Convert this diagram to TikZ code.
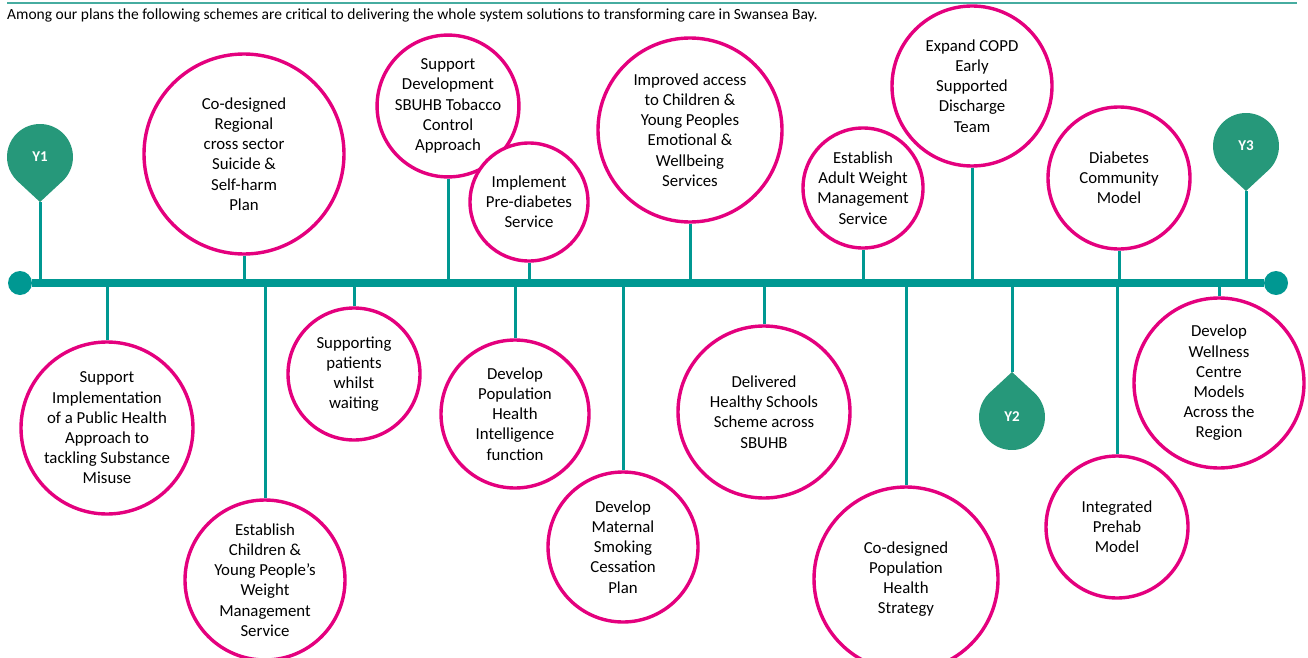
\documentclass[tikz,border=0pt]{standalone}
\usepackage{fontspec}
\setmainfont{Carlito}
\definecolor{lineteal}{RGB}{0,152,146}
\definecolor{ruleteal}{RGB}{70,172,160}
\definecolor{pingreen}{RGB}{38,152,122}
\definecolor{ringpink}{RGB}{228,0,126}
\newcommand{\yearpin}[4]{%
  \begin{scope}[shift={#2},yscale=#3]
    \fill[pingreen] (0,45) -- (22.4,24.2)
      arc[start angle=47.2,end angle=-227.2,radius=33] -- cycle;
    \coordinate (#1tip) at (0,45);
  \end{scope}
  \node[year] (#1) at #2 {#4};
}

\begin{document}
\begin{tikzpicture}[
      x=1pt,y=-1pt,
      plan/.style={circle,draw=ringpink,line width=3.4pt,fill=white,inner sep=0pt,
        align=center,font=\fontsize{16.8}{20.2}\selectfont},
      year/.style={text=white,font=\fontsize{15}{18}\selectfont\bfseries},
      stem/.style={draw=lineteal,line width=3pt},
      dot/.style={circle,fill=lineteal,minimum size=24pt,inner sep=0pt}
    ]
      \useasboundingbox (0,0) rectangle (1308,658);
      \draw[ruleteal,line width=2.5pt] (7,3) -- (1297,3);
      \node[anchor=west,inner sep=0pt,font=\fontsize{15.5}{18}\selectfont] (intro) at (7,15.5)
        {Among our plans the following schemes are critical to delivering the whole system solutions to transforming care in Swansea Bay.};
      \coordinate (tl) at (0,282.5);

      % above the line
      \node[plan,minimum size=200pt] (suicide) at (244,154)
        {Co-designed\\Regional\\cross sector\\Suicide \&\\Self-harm\\Plan};
      \node[plan,minimum size=124pt] (tobacco) at (448,106)
        {Support\\Development\\SBUHB Tobacco\\Control\\Approach};
      \node[plan,minimum size=118pt] (prediab) at (529,202)
        {Implement\\Pre-diabetes\\Service};
      \node[plan,minimum size=184pt] (emotional) at (690,130)
        {Improved access\\to Children \&\\Young Peoples\\Emotional \&\\Wellbeing\\Services};
      \node[plan,minimum size=120pt] (adultweight) at (863,188)
        {Establish\\Adult Weight\\Management\\Service};
      \node[plan,minimum size=160pt] (copd) at (972,86)
        {Expand COPD\\Early\\Supported\\Discharge\\Team};
      \node[plan,minimum size=142pt] (diabetes) at (1119,178)
        {Diabetes\\Community\\Model};

      % below the line
      \node[plan,minimum size=172pt] (substance) at (107,428)
        {Support\\Implementation\\of a Public Health\\Approach to\\tackling Substance\\Misuse};
      \node[plan,minimum size=160pt] (childweight) at (265,580)
        {Establish\\Children \&\\Young People’s\\Weight\\Management\\Service};
      \node[plan,minimum size=132pt] (waiting) at (354,374)
        {Supporting\\patients\\whilst\\waiting};
      \node[plan,minimum size=148pt] (intelligence) at (515,414)
        {Develop\\Population\\Health\\Intelligence\\function};
      \node[plan,minimum size=150pt] (maternal) at (623,547)
        {Develop\\Maternal\\Smoking\\Cessation\\Plan};
      \node[plan,minimum size=172pt] (schools) at (764,412)
        {Delivered\\Healthy Schools\\Scheme across\\SBUHB};
      \node[plan,minimum size=184pt] (strategy) at (906,579)
        {Co-designed\\Population\\Health\\Strategy};
      \node[plan,minimum size=142pt] (prehab) at (1117,527)
        {Integrated\\Prehab\\Model};
      \node[plan,minimum size=170pt] (wellness) at (1219,383)
        {Develop\\Wellness\\Centre\\Models\\Across the\\Region};

      \yearpin{y1}{(40,157)}{1}{Y1}
      \yearpin{y2}{(1012,417)}{-1}{Y2}
      \yearpin{y3}{(1246,146)}{1}{Y3}

      \foreach \n in {suicide,tobacco,prediab,emotional,adultweight,copd,diabetes}
        \draw[stem] (\n.south) -- (\n.south |- tl);
      \foreach \n in {substance,childweight,waiting,intelligence,maternal,schools,strategy,prehab,wellness}
        \draw[stem] (\n.north) -- (\n.north |- tl);
      \foreach \n in {y1,y2,y3}
        \draw[stem] (\n tip) -- (\n tip |- tl);

      \node[dot] (start) at (20,283) {};
      \node[dot] (end) at (1276,283) {};
      \draw[lineteal,line width=8pt] (start) -- (end);
    \end{tikzpicture}
\end{document}
